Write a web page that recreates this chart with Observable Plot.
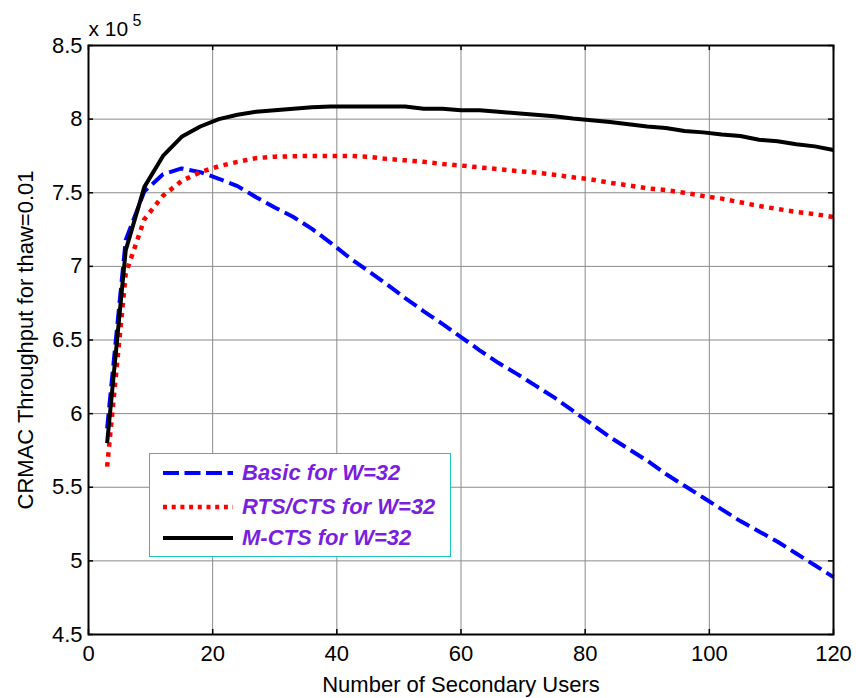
<!DOCTYPE html>
<html>
<head>
<meta charset="utf-8">
<script src="https://cdn.jsdelivr.net/npm/d3@7"></script>
<script src="https://cdn.jsdelivr.net/npm/@observablehq/plot@0.6"></script>
<style>
  body { margin: 0; background: #fff; }
  #wrap { position: relative; width: 856px; height: 698px; font-family: "Liberation Sans", Arial, sans-serif; }
  #legend { position: absolute; left: 149px; top: 453px; width: 300px; height: 102px; border: 1.5px solid #1fc0c6; background: #fff; }
  .row { position: absolute; left: 0; height: 30px; display: flex; align-items: center; }
  .row svg { margin-left: 13px; }
  .row span { margin-left: 9px; font-size: 22px; font-weight: bold; font-style: italic; color: #7a1fe0; white-space: nowrap; }
</style>
</head>
<body>
<div id="wrap"></div>
<script>
// ---- data (throughput in units of 1e5) ----
const users = [3,6,9,12,15,18,21,24,27,30,33,36,39,42,45,48,51,54,57,60,63,66,69,72,75,78,81,84,87,90,93,96,99,102,105,108,111,114,117,120];
const basic = [5.90,7.18,7.51,7.625,7.665,7.64,7.595,7.545,7.47,7.40,7.335,7.255,7.16,7.06,6.97,6.88,6.785,6.695,6.61,6.52,6.43,6.345,6.27,6.19,6.11,6.02,5.93,5.84,5.76,5.68,5.59,5.51,5.43,5.35,5.27,5.20,5.13,5.05,4.97,4.89];
const rtsCts = [5.64,6.95,7.32,7.48,7.58,7.64,7.68,7.71,7.735,7.745,7.748,7.75,7.75,7.75,7.745,7.73,7.72,7.71,7.695,7.685,7.672,7.66,7.648,7.637,7.622,7.605,7.59,7.568,7.55,7.53,7.518,7.50,7.478,7.46,7.435,7.41,7.39,7.37,7.355,7.335];
const mCts = [5.80,7.11,7.54,7.75,7.88,7.95,8.00,8.03,8.05,8.06,8.07,8.08,8.085,8.085,8.085,8.085,8.085,8.07,8.07,8.06,8.06,8.05,8.04,8.03,8.02,8.005,7.993,7.98,7.965,7.95,7.94,7.92,7.91,7.895,7.885,7.86,7.85,7.83,7.815,7.79];
const seriesNames = ["Basic for W=32", "RTS/CTS for W=32", "M-CTS for W=32"];
const seriesValues = [basic, rtsCts, mCts];
const xTicks = [0,20,40,60,80,100,120];
const yTicks = [4.5,5,5.5,6,6.5,7,7.5,8,8.5];
const xLabel = "Number of Secondary Users";
const yLabel = "CRMAC Throughput for thaw=0.01";

// ---- styles ----
const styles = [
  {stroke: "#0000ff", dash: "15,6", width: 4},
  {stroke: "#ff0000", dash: "4.5,5.5", width: 4.5},
  {stroke: "#000000", dash: null, width: 4}
];

const table = seriesNames.flatMap((name, i) => users.map((u, j) => ({series: name, users: u, value: seriesValues[i][j]})));

const W = 856, H = 698, ML = 88, MR = 23, MT = 45, MB = 64;
const FW = W - ML - MR, FH = H - MT - MB;

const lineMarks = seriesNames.map((name, i) => Plot.line(table.filter(d => d.series === name), {
  x: "users", y: "value", stroke: styles[i].stroke, strokeWidth: styles[i].width,
  strokeDasharray: styles[i].dash, strokeLinecap: "butt", strokeLinejoin: "round"
}));

const chart = Plot.plot({
  width: W, height: H,
  marginLeft: ML, marginRight: MR, marginTop: MT, marginBottom: MB,
  style: {fontFamily: "'Liberation Sans', Arial, sans-serif", fontSize: "22px", background: "white", color: "black", overflow: "visible"},
  x: {type: "linear", domain: [0, 120]},
  y: {type: "linear", domain: [4.5, 8.5]},
  marks: [
    Plot.gridX(xTicks, {stroke: "#8a8a8a", strokeOpacity: 1, strokeWidth: 1}),
    Plot.gridY(yTicks, {stroke: "#8a8a8a", strokeOpacity: 1, strokeWidth: 1}),
    Plot.axisX(xTicks, {tickSize: 0, tickPadding: 11, tickFormat: d => String(d), fontSize: 22, label: null}),
    Plot.axisY(yTicks, {tickSize: 0, tickPadding: 6, tickFormat: d => String(d), fontSize: 22, label: null}),
    ...lineMarks,
    // inward ticks (MATLAB box style)
    Plot.tickY(yTicks, {y: d => d, insetRight: FW - 5, stroke: "black", strokeWidth: 1.5}),
    Plot.tickY(yTicks, {y: d => d, insetLeft: FW - 5, stroke: "black", strokeWidth: 1.5}),
    Plot.tickX(xTicks, {x: d => d, insetTop: FH - 5, stroke: "black", strokeWidth: 1.5}),
    Plot.tickX(xTicks, {x: d => d, insetBottom: FH - 5, stroke: "black", strokeWidth: 1.5}),
    Plot.frame({stroke: "black", strokeWidth: 2}),
    Plot.text([xLabel], {text: d => d, frameAnchor: "bottom", textAnchor: "middle", lineAnchor: "middle", dy: 50, fontSize: 22}),
    Plot.text([yLabel], {text: d => d, frameAnchor: "left", textAnchor: "middle", lineAnchor: "middle", dx: -63, rotate: -90, fontSize: 22}),
    Plot.text(["x 10"], {text: d => d, frameAnchor: "top-left", textAnchor: "start", lineAnchor: "bottom", dy: -10, fontSize: 21}),
    Plot.text(["5"], {text: d => d, frameAnchor: "top-left", textAnchor: "start", lineAnchor: "bottom", dx: 44, dy: -20, fontSize: 16})
  ]
});

const wrap = document.getElementById("wrap");
wrap.appendChild(chart);

// ---- legend ----
const legend = document.createElement("div");
legend.id = "legend";
const rowTops = [4, 38, 69];
seriesNames.forEach((name, i) => {
  const row = document.createElement("div");
  row.className = "row";
  row.style.top = rowTops[i] + "px";
  const s = styles[i];
  const legendDash = i === 1 ? "4,4.7" : (i === 0 ? "16,5.5" : null);
  row.innerHTML = `<svg width="70" height="10"><line x1="0" y1="5" x2="70" y2="5" stroke="${s.stroke}" stroke-width="${s.width}" ${legendDash ? `stroke-dasharray="${legendDash}"` : ""} stroke-linecap="butt"/></svg><span>${name}</span>`;
  legend.appendChild(row);
});
wrap.appendChild(legend);
</script>
</body>
</html>
